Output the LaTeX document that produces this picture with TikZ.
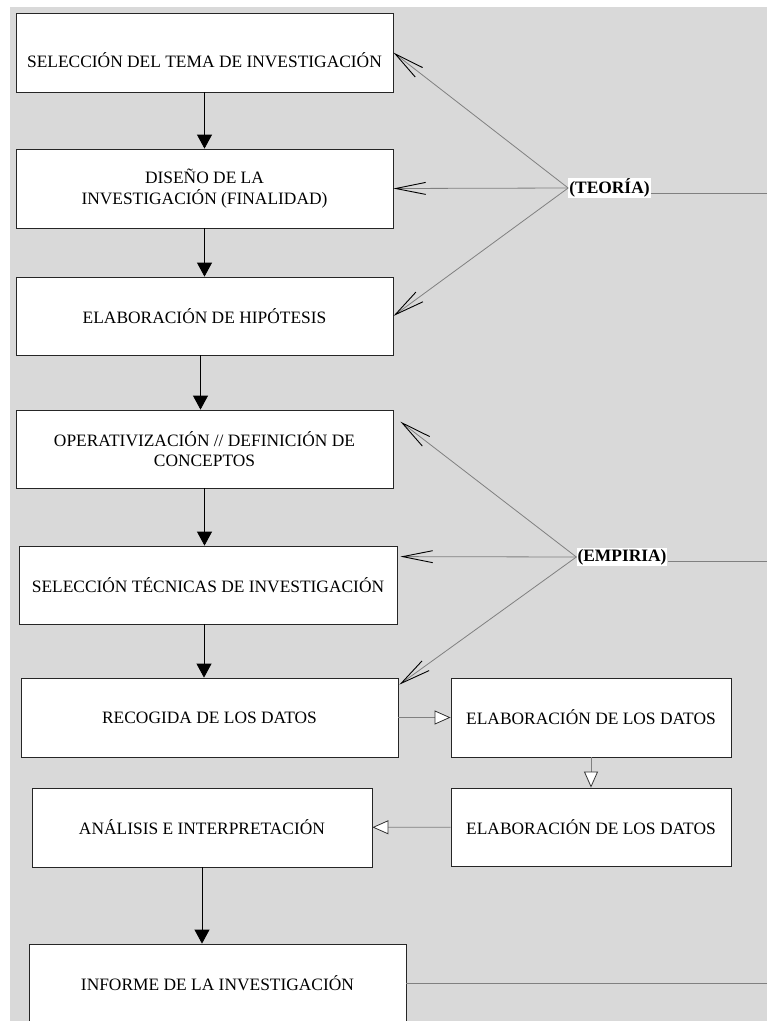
\documentclass[tikz,border=0pt]{standalone}
\usepackage{fontspec}
\setmainfont{Liberation Serif}
\usetikzlibrary{arrows.meta, calc}

\begin{document}
\begin{tikzpicture}[
x=1pt, y=-1pt,
% stages of the research process
stage/.style={draw=black!85, fill=white, line width=0.8pt, inner sep=0, align=center, font=\fontsize{17.4}{20.5}\selectfont, minimum width=377, minimum height=79},
sidestage/.style={stage, minimum width=280},
% theory / empirical sources
source/.style={fill=white, inner sep=1pt, font=\fontsize{17.4}{20}\selectfont\bfseries},
% connectors
flow/.style={black, line width=0.8pt, -{Triangle[length=14pt, width=15pt]}},
data/.style={black!50, line width=0.8pt, -{Triangle[length=16pt, width=14pt, fill=white, color=black!80]}},
hint/.style={black!50, line width=0.8pt, -{Straight Barb[length=30pt, width=12pt, color=black, line width=0.9pt]}},
link/.style={black!50, line width=0.8pt}
]

\clip (0,0) rectangle (767,1021);
\fill[black!15] (10,7) rectangle (767,1021);

% main column
\node[stage, text height=29.5pt, text depth=0pt] (b1) at (204.5,52.5) {SELECCIÓN DEL TEMA DE INVESTIGACIÓN};
\node[stage] (b2) at (204.5,188.5) {DISEÑO DE LA\\INVESTIGACIÓN (FINALIDAD)};
\node[stage, minimum height=78] (b3) at (204.5,316) {ELABORACIÓN DE HIPÓTESIS};
\node[stage, minimum height=78] (b4) at (204.5,449) {OPERATIVIZACIÓN // DEFINICIÓN DE\\CONCEPTOS};
\node[stage, minimum width=378, minimum height=78] (b5) at (208,585) {SELECCIÓN TÉCNICAS DE INVESTIGACIÓN};
\node[stage] (b6) at (209.5,717.5) {RECOGIDA DE LOS DATOS};
\node[stage, minimum width=340] (b9) at (202,827.5) {ANÁLISIS E INTERPRETACIÓN};
\node[stage, minimum height=78] (b10) at (217.5,983) {INFORME DE LA INVESTIGACIÓN};

% data branch
\node[sidestage] (b7) at (591,717.5) {ELABORACIÓN DE LOS DATOS};
\node[sidestage, minimum height=78] (b8) at (591,827) {ELABORACIÓN DE LOS DATOS};

% sources
\node[source] (teoria) at (609.5,188) {(TEORÍA)};
\node[source] (empiria) at (622,557) {(EMPIRIA)};

% free ends
\coordinate (e4) at ($(b4.north east)+(7,12)$);
\coordinate (e5) at ($(b5.north east)+(3,11)$);
\coordinate (e6) at ($(b6.north east)+(1,7)$);
\coordinate (edge1) at (767,193);
\coordinate (edge2) at (767,561);
\coordinate (edge3) at (767,983);

% main flow
\foreach \a/\b in {b1/b2, b2/b3, b4/b5, b9/b10}
  \draw[flow] (\a.south) -- (\a.south |- \b.north);
\draw[flow] ([xshift=-4]b3.south) -- ([xshift=-4]b3.south |- b4.north);
\draw[flow] ([xshift=-4]b5.south) -- ([xshift=-4]b5.south |- b6.north);

% data handling
\draw[data] (b6) -- (b7);
\draw[data] (b7) -- (b8);
\draw[data] (b8) -- (b9);

% theory and empirics
\foreach \t in {b1, b2, b3}
  \draw[hint] (teoria.west) -- (\t.east);
\foreach \t in {e4, e5, e6}
  \draw[hint] (empiria.west) -- (\t);

\draw[link] (teoria.east |- edge1) -- (edge1);
\draw[link] (empiria.east |- edge2) -- (edge2);
\draw[link] (b10) -- (edge3);

\end{tikzpicture}
\end{document}
